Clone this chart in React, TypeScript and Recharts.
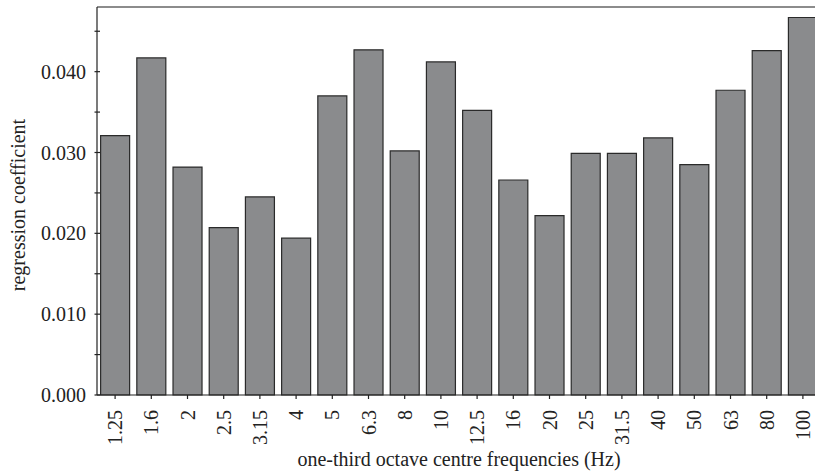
import { BarChart, Bar, XAxis, YAxis, ReferenceLine, Label } from 'recharts'

const frequencies = ['1.25', '1.6', '2', '2.5', '3.15', '4', '5', '6.3', '8', '10', '12.5', '16', '20', '25', '31.5', '40', '50', '63', '80', '100']
const coefficients = [0.0321, 0.0417, 0.0282, 0.0207, 0.0245, 0.0194, 0.037, 0.0427, 0.0302, 0.0412, 0.0352, 0.0266, 0.0222, 0.0299, 0.0299, 0.0318, 0.0285, 0.0377, 0.0426, 0.0467]
const majorTicks = [0, 0.01, 0.02, 0.03, 0.04]
const minorTicks = [0.005, 0.015, 0.025, 0.035, 0.045]
const yMax = 0.048

const data = frequencies.map((f, i) => ({ freq: f, coef: coefficients[i] }))

const FONT = '"Liberation Serif", "Times New Roman", serif'
const INK = '#222'

const YTick = ({ x, y, payload }: any) => {
  const isMajor = majorTicks.includes(payload.value)
  return (
    <g>
      <line x1={x - 2.5} x2={x + 3} y1={y} y2={y} stroke={INK} strokeWidth={1.2} />
      {isMajor && (
        <text x={x - 11} y={y} dy="0.35em" textAnchor="end" fontSize={20} fontFamily={FONT} fill={INK}>
          {payload.value.toFixed(3)}
        </text>
      )}
    </g>
  )
}

const XTick = ({ x, y, payload }: any) => (
  <g transform={`translate(${x},${y})`}>
    <line x1={0} x2={0} y1={0} y2={4} stroke={INK} strokeWidth={1.2} />
    <text transform="rotate(-90)" x={-15} y={0} dy="0.35em" textAnchor="end" fontSize={20} fontFamily={FONT} fill={INK}>
      {payload.value}
    </text>
  </g>
)

export default function App() {
  return (
    <div style={{ position: 'absolute', left: 0, top: 0, width: 815, height: 472, overflow: 'hidden', background: '#fff' }}>
      <BarChart width={830} height={472} data={data} margin={{ top: 7, right: 9, bottom: 0, left: 0 }} barCategoryGap="10%">
        <XAxis
          dataKey="freq"
          height={77}
          interval={0}
          tickSize={0}
          tickMargin={0}
          tickLine={false}
          axisLine={{ stroke: INK, strokeWidth: 1.2 }}
          tick={<XTick />}
        >
          <Label
            content={() => (
              <text x={459} y={466} textAnchor="middle" fontSize={20} fontFamily={FONT} fill={INK}>
                one-third octave centre frequencies (Hz)
              </text>
            )}
          />
        </XAxis>
        <YAxis
          width={97}
          domain={[0, yMax]}
          ticks={[...majorTicks, ...minorTicks].sort((a, b) => a - b)}
          interval={0}
          tickSize={0}
          tickMargin={0}
          tickLine={false}
          axisLine={{ stroke: INK, strokeWidth: 1.2 }}
          tick={<YTick />}
        >
          <Label
            content={() => (
              <text x={25} y={205} transform="rotate(-90, 25, 205)" textAnchor="middle" fontSize={20} fontFamily={FONT} fill={INK}>
                regression coefficient
              </text>
            )}
          />
        </YAxis>
        <ReferenceLine y={yMax} stroke="#666" strokeWidth={1.5} />
        <Bar dataKey="coef" fill="#8a8b8d" stroke="#2a2a2a" strokeWidth={1.2} isAnimationActive={false} />
      </BarChart>
    </div>
  )
}
